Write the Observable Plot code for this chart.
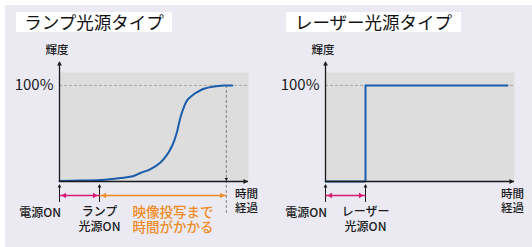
<!DOCTYPE html>
<html><head><meta charset="utf-8">
<script src="https://cdn.jsdelivr.net/npm/d3@7"></script>
<script src="https://cdn.jsdelivr.net/npm/@observablehq/plot@0.6"></script>
<style>
html,body{margin:0;padding:0;background:#fff;}
#wrap{position:relative;width:532px;height:247px;overflow:hidden;font-family:"Noto Sans CJK JP","Noto Sans",sans-serif;}
#bg{position:absolute;left:5px;top:5px;right:0;bottom:0;background:#ebeaf3;}
.panel{position:absolute;top:0;width:266px;height:247px;}
.panel svg{position:absolute;left:0;top:0;}
.title{position:absolute;top:12px;height:20px;background:#fff;font-size:17.5px;line-height:20px;color:#111;white-space:nowrap;text-align:center;z-index:2;font-weight:400;}
</style></head>
<body><div id="wrap"><div id="bg"></div></div>
<script>
// ---- data ----
const titles = ["ランプ光源タイプ", "レーザー光源タイプ"];
const yAxisLabel = "輝度";
const xAxisLabel = "時間\n経過";
const yTicks = [100];
const eventTimes = [0, 1];
const lampEvents = ["電源ON", "ランプ\n光源ON"];
const laserEvents = ["電源ON", "レーザー\n光源ON"];
const lampTime  = [0, 0.525, 1.025, 1.525, 1.85, 2.025, 2.275, 2.525, 2.69, 2.82, 2.925, 3.025, 3.11, 3.19, 3.32, 3.44, 3.61, 3.86, 4.11, 4.32];
const lampLevel = [0.5, 1, 1.5, 3.6, 5.7, 8.9, 13, 19.8, 28, 37.5, 49.7, 67, 77.4, 84.4, 89.6, 93, 96.6, 99, 100, 100];
const laserTime  = [0, 1, 1, 4.55];
const laserLevel = [0, 0, 100, 100];
const lampFullTime = 4.17;
const waitNote = "映像投写まで\n時間がかかる";
const T_MAX = 4.725, Y_MAX = 113.5;

// ---- drawing ----
const PX = Y_MAX / 109; // data units per pixel (vertical)
const ink = "#1a1a1a";
const pink = "#d81b72", orange = "#ef8a22", blue = "#1b5cab";
const FONT = '"Noto Sans CJK JP","Noto Sans",sans-serif';

function head(x, y, dir, color, r, off) {
  const rot = {right: 90, left: -90, up: 0, down: 180}[dir];
  const d = {right: [-off, 0], left: [off, 0], up: [0, off], down: [0, -off]}[dir];
  return Plot.dot([0], {x: () => x, y: () => y, symbol: "triangle2", r, fill: color, stroke: "none", rotate: rot, dx: d[0], dy: d[1]});
}

function makePanel(cfg) {
  const curve = cfg.time.map((t, i) => ({t, v: cfg.level[i]}));
  const events = eventTimes.map((t, i) => ({t, label: cfg.events[i]}));
  const marks = [
    Plot.frame({fill: "#dcdddc", stroke: "none"}),
    Plot.ruleY(yTicks, {stroke: "#9a9a9a", strokeWidth: 0.8, strokeDasharray: "3,2"})
  ];
  if (cfg.fullTime != null) {
    marks.push(Plot.ruleX([cfg.fullTime], {y1: () => 100, y2: () => -34 * PX, stroke: "#6a6a6a", strokeWidth: 0.8, strokeDasharray: "3,2"}));
  }
  marks.push(Plot.line(curve, {x: "t", y: "v", curve: cfg.curve, stroke: blue, strokeWidth: 2}));
  // axes
  marks.push(Plot.ruleY([0], {stroke: ink, strokeWidth: 1.3}));
  marks.push(Plot.ruleX([0], {y1: () => 0, y2: () => 119 * PX, stroke: ink, strokeWidth: 1.3}));
  marks.push(head(T_MAX, 0, "right", ink, 2.3, 3.6));
  marks.push(head(0, 121 * PX, "up", ink, 2.3, 3.6));
  if (cfg.fullTime != null) marks.push(head(cfg.fullTime, 0, "down", ink, 1.6, 2.5));
  // event ticks
  marks.push(Plot.ruleX(events, {x: "t", y1: () => -4 * PX, y2: () => -21 * PX, stroke: ink, strokeWidth: 1}));
  events.forEach(e => marks.push(head(e.t, -2 * PX, "up", ink, 1.8, 2.8)));
  // interval arrows
  const ay = -14 * PX;
  marks.push(Plot.link([0], {x1: () => eventTimes[0], x2: () => eventTimes[1], y1: () => ay, y2: () => ay, stroke: pink, strokeWidth: 1.3}));
  marks.push(head(eventTimes[0], ay, "left", pink, 2.6, 5));
  marks.push(head(eventTimes[1], ay, "right", pink, 2.6, 5));
  if (cfg.fullTime != null) {
    marks.push(Plot.link([0], {x1: () => eventTimes[1], x2: () => cfg.fullTime, y1: () => ay, y2: () => ay, stroke: orange, strokeWidth: 1.3}));
    marks.push(head(eventTimes[1], ay, "left", orange, 2.6, 5));
    marks.push(head(cfg.fullTime, ay, "right", orange, 2.6, 4.5));
    marks.push(Plot.text([waitNote], {x: () => eventTimes[1], y: () => 0, text: d => d, textAnchor: "start", lineAnchor: "middle", dx: 33, dy: 38, fontSize: 13.5, lineHeight: 1.15, fill: orange, fontWeight: 500, fontFamily: FONT}));
  }
  // texts
  marks.push(Plot.text(yTicks, {x: () => 0, y: d => d, text: d => d + "%", textAnchor: "end", dx: -6, fontSize: 15, fill: ink, fontFamily: FONT}));
  marks.push(Plot.text([yAxisLabel], {x: () => 0, y: () => 121 * PX, text: d => d, dx: -2.5, dy: -10, fontSize: 11.5, fontWeight: 500, fill: ink, fontFamily: FONT}));
  marks.push(Plot.text([xAxisLabel], {x: () => T_MAX, y: () => 0, text: d => d, lineAnchor: "middle", dx: -2, dy: 19, fontSize: 11.5, lineHeight: 1.22, fontWeight: 500, fill: ink, fontFamily: FONT}));
  marks.push(Plot.text(events.slice(0, 1), {x: "t", y: () => 0, text: "label", textAnchor: "end", lineAnchor: "middle", dx: 1.5, dy: 32, fontSize: 12, fontWeight: 500, fill: ink, fontFamily: FONT}));
  marks.push(Plot.text(events.slice(1), {x: "t", y: () => 0, text: "label", textAnchor: "middle", lineAnchor: "middle", dy: 37.5, fontSize: 12, lineHeight: 1.25, fontWeight: 500, fill: ink, fontFamily: FONT}));

  return Plot.plot({
    width: 266, height: 247,
    marginLeft: 59, marginRight: 18, marginTop: 72, marginBottom: 66,
    x: {domain: [0, T_MAX], axis: null},
    y: {domain: [0, Y_MAX], axis: null},
    style: {background: "transparent", overflow: "visible", fontFamily: FONT},
    marks
  });
}

const wrap = document.getElementById("wrap");
const cfgs = [
  {title: titles[0], left: 0, boxLeft: 16, boxWidth: 156, time: lampTime, level: lampLevel, curve: "catmull-rom", events: lampEvents, fullTime: lampFullTime},
  {title: titles[1], left: 266, boxLeft: 20, boxWidth: 175, time: laserTime, level: laserLevel, curve: "linear", events: laserEvents, fullTime: null}
];
cfgs.forEach(cfg => {
  const p = document.createElement("div");
  p.className = "panel";
  p.style.left = cfg.left + "px";
  p.appendChild(makePanel(cfg));
  const t = document.createElement("div");
  t.className = "title";
  t.style.left = cfg.boxLeft + "px";
  t.style.width = cfg.boxWidth + "px";
  t.textContent = cfg.title;
  p.appendChild(t);
  wrap.appendChild(p);
});
</script>
</body></html>
